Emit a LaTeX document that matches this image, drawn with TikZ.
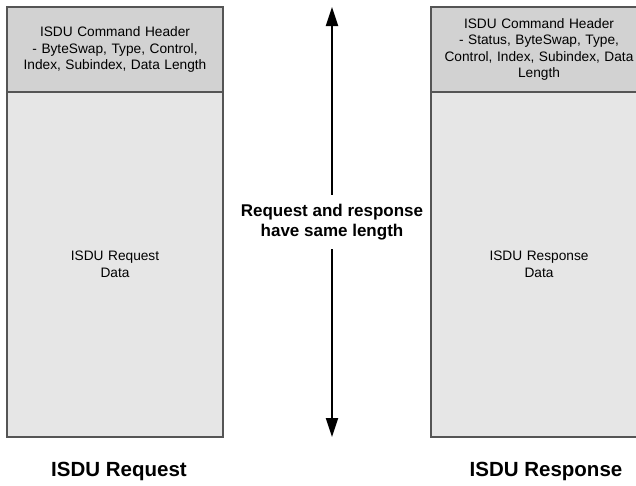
\documentclass[tikz,border=0pt]{standalone}
\usepackage{fontspec}
\setmainfont{Liberation Sans}
\usetikzlibrary{arrows.meta, positioning}

\definecolor{headgray}{HTML}{D2D2D2}
\definecolor{datagray}{HTML}{E6E6E6}
\definecolor{framegray}{HTML}{555555}

\begin{document}
\begin{tikzpicture}[
    x=1pt, y=-1pt,
    node distance=0pt,
    header/.style={rectangle, draw=framegray, fill=headgray, line width=1.2pt,
                   minimum width=216pt, minimum height=85pt, text width=205pt,
                   align=center, inner sep=0pt, outer sep=0pt,
                   font=\fontsize{13.7}{16.5}\selectfont},
    data/.style={rectangle, draw=framegray, fill=datagray, line width=1.2pt,
                 minimum width=216pt, minimum height=345pt, text width=205pt,
                 align=center, inner sep=0pt, outer sep=0pt,
                 font=\fontsize{13.7}{16.5}\selectfont},
    caption/.style={font=\bfseries\fontsize{20.5}{24}\selectfont},
    note/.style={align=center, inner xsep=2pt, inner ysep=9pt,
                 font=\bfseries\fontsize{17}{20}\selectfont},
    arrow/.style={-{Triangle[length=19pt, width=12pt]}, line width=2pt}
]
    \fill[white] (0,0) rectangle (636,485);
    \useasboundingbox (0,0) rectangle (636,485);

    % request side
    \node[header] (reqhead) at (115,49.5) {ISDU Command Header\\- ByteSwap, Type, Control,\\Index, Subindex, Data Length};
    \node[data, below=of reqhead] (reqdata) {ISDU Request\\Data};
    \draw[framegray, line width=2pt] (reqhead.south west) -- (reqhead.south east);

    % response side
    \node[header] (resphead) at (539,49.5) {ISDU Command Header\\- Status, ByteSwap, Type,\\Control, Index, Subindex, Data\\Length};
    \node[data, below=of resphead] (respdata) {ISDU Response\\Data};
    \draw[framegray, line width=2pt] (resphead.south west) -- (resphead.south east);

    % length arrow
    \node[note] (samelen) at (332,222) {Request and response\\have same length};
    \coordinate (lentop) at (332,7);
    \coordinate (lenbot) at (332,437);
    \draw[arrow] (samelen) -- (lentop);
    \draw[arrow] (samelen) -- (lenbot);

    \node[caption] (reqcap) at (119,471) {ISDU Request};
    \node[caption] (respcap) at (546,471) {ISDU Response};
\end{tikzpicture}
\end{document}
